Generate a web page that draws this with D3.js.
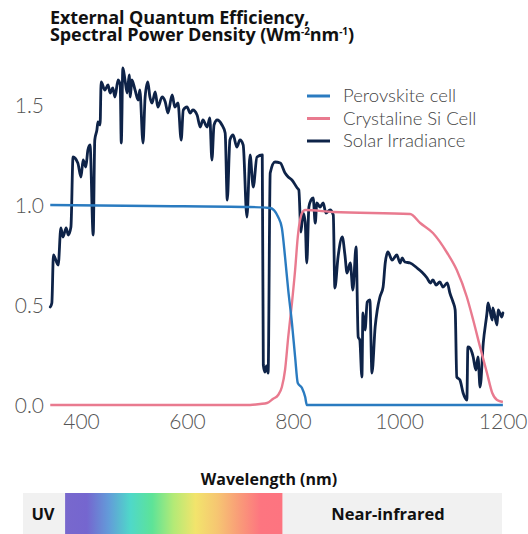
<!DOCTYPE html>
<html>
<head>
<meta charset="utf-8">
<script src="https://cdn.jsdelivr.net/npm/d3@7"></script>
<style>
  html, body { margin: 0; padding: 0; background: #fff; }
  svg { display: block; }
</style>
</head>
<body>
<div id="chart"></div>
<script>
// Wavelength (nm) vs value.
const solarIrradiance = [
  [342,0.49],[345,0.51],[348,0.75],[357,0.70],[362,0.885],[366,0.84],[372,0.885],[376,0.85],[381,0.89],
  [385,1.24],[394,1.21],[400,1.14],[404,1.225],[409,1.19],[413,1.275],[417,1.30],[423,0.85],[426,1.325],
  [430,1.375],[432,1.415],[436,1.40],[438,1.615],[445,1.575],[451,1.60],[455,1.56],[460,1.585],[464,1.54],
  [470,1.625],[474,1.60],[476,1.31],[479,1.685],[483,1.625],[487,1.56],[491,1.65],[493,1.54],[496,1.625],
  [502,1.575],[508,1.525],[511,1.575],[517,1.31],[521,1.54],[526,1.615],[530,1.54],[534,1.51],[540,1.565],
  [545,1.49],[553,1.54],[559,1.515],[564,1.46],[572,1.55],[577,1.49],[583,1.51],[589,1.325],[593,1.475],
  [600,1.49],[606,1.46],[611,1.475],[619,1.45],[625,1.39],[630,1.425],[638,1.39],[643,1.435],[647,1.225],
  [651,1.40],[657,1.425],[666,1.40],[672,1.36],[676,1.025],[681,1.325],[687,1.35],[694,1.29],[700,1.325],
  [706,1.30],[713,0.94],[719,1.25],[725,1.09],[732,1.24],[742,1.25],[744,0.20],[747,0.165],[750,0.195],
  [753,0.16],[757,1.16],[766,1.215],[776,1.21],[785,1.16],[791,1.14],[798,1.125],[808,1.085],[811,1.075],
  [815,0.865],[819,0.96],[823,0.915],[826,0.71],[830,0.99],[834,1.025],[838,1.035],[842,0.91],[845,1.01],
  [851,0.99],[857,1.01],[862,0.96],[870,0.975],[876,0.95],[879,0.585],[885,0.74],[893,0.84],[898,0.75],
  [902,0.66],[908,0.71],[913,0.575],[919,0.79],[923,0.34],[926,0.325],[930,0.14],[932,0.46],[936,0.375],
  [940,0.515],[945,0.525],[949,0.16],[955,0.39],[959,0.475],[964,0.54],[970,0.59],[974,0.71],[979,0.765],
  [987,0.725],[996,0.75],[1002,0.71],[1006,0.735],[1011,0.715],[1021,0.71],[1034,0.685],[1043,0.665],
  [1053,0.635],[1059,0.61],[1064,0.625],[1070,0.60],[1077,0.615],[1083,0.59],[1091,0.61],[1096,0.56],
  [1102,0.515],[1106,0.475],[1109,0.14],[1115,0.125],[1121,0.06],[1128,0.025],[1130,0.29],[1134,0.285],
  [1138,0.26],[1140,0.24],[1145,0.175],[1149,0.24],[1153,0.09],[1159,0.31],[1166,0.46],[1168,0.51],
  [1176,0.425],[1177,0.485],[1185,0.40],[1187,0.475],[1194,0.44],[1196,0.46]
];
const perovskiteEQE = [
  [342,1.0],[530,0.995],[719,0.99],[757,0.985],[772,0.94],[779,0.885],[785,0.74],[791,0.575],
  [798,0.41],[804,0.24],[809,0.11],[817,0.085],[823,0.04],[826,0.0],[1196,0.0]
];
const siliconEQE = [
  [342,0.0],[719,0.0],[738,0.005],[751,0.01],[762,0.03],[772,0.05],[779,0.09],[785,0.175],[791,0.34],
  [798,0.51],[804,0.675],[809,0.84],[817,0.96],[823,0.975],[876,0.965],[1021,0.955],[1040,0.91],
  [1064,0.86],[1091,0.76],[1109,0.675],[1128,0.54],[1140,0.425],[1153,0.29],[1166,0.16],[1176,0.06],
  [1185,0.025],[1196,0.015]
];
const xTicks = [400, 600, 800, 1000, 1200];
const yTicks = [0, 0.5, 1.0, 1.5];
const seriesNames = ["Perovskite cell", "Crystaline Si Cell", "Solar Irradiance"];
const seriesColors = ["#2a7bc0", "#e97a8f", "#0e2348"];
const visibleBand = [370, 780];       // rainbow part of the strip
const bandColors = ["#7868cd","#7566cf","#639bd9","#4fd8c9","#5de398","#b4ea76","#f2e46c","#f6c672","#f99c78","#fd7580","#fd7480"];

const W = 528, H = 534;
const svg = d3.select("#chart").append("svg").attr("width", W).attr("height", H);

const x = d3.scaleLinear().domain([400, 1200]).range([81, 505]);
const y = d3.scaleLinear().domain([0, 1.5]).range([405, 105]);

const boldFont = "'Open Sans', Roboto, sans-serif";
const lightFont = "Lato, 'Open Sans', sans-serif";

// ---------- title (two lines, second one carries the unit superscripts) ----------
svg.append("text")
  .attr("x", 50).attr("y", 24)
  .attr("font-family", boldFont).attr("font-weight", 700).attr("font-size", 18)
  .attr("letter-spacing", -0.1)
  .attr("fill", "#111").text("External Quantum Efficiency,");
const t2 = svg.append("text")
  .attr("x", 50).attr("y", 41)
  .attr("font-family", boldFont).attr("font-weight", 700).attr("font-size", 18)
  .attr("letter-spacing", -0.1)
  .attr("fill", "#111");
t2.append("tspan").text("Spectral Power Density (Wm");
t2.append("tspan").attr("font-size", 10).attr("dy", -6).text("-2");
t2.append("tspan").attr("dy", 6).text("nm");
t2.append("tspan").attr("font-size", 10).attr("dy", -6).text("-1");
t2.append("tspan").attr("dy", 6).text(")");

// ---------- axes (labels only) ----------
const yAxis = svg.append("g")
  .attr("transform", "translate(44,0)")
  .call(d3.axisLeft(y).tickValues(yTicks).tickFormat(d3.format(".1f")).tickSize(0).tickPadding(0));
yAxis.select(".domain").remove();
yAxis.selectAll("text")
  .attr("font-family", lightFont).attr("font-weight", 300).attr("font-size", 21)
  .attr("fill", "#555").attr("dy", "0.36em");

const xAxis = svg.append("g")
  .attr("transform", "translate(0,414)")
  .call(d3.axisBottom(x).tickValues(xTicks).tickFormat(d3.format("d")).tickSize(0).tickPadding(0));
xAxis.select(".domain").remove();
xAxis.selectAll("text")
  .attr("font-family", lightFont).attr("font-weight", 300).attr("font-size", 21)
  .attr("fill", "#555").attr("dy", "0.71em");
// last label sits flush with the right edge
xAxis.selectAll(".tick").filter(d => d === 1200).select("text").attr("text-anchor", "end").attr("x", 22);

// ---------- lines ----------
const smooth = d3.line().x(d => x(d[0])).y(d => y(d[1])).curve(d3.curveMonotoneX);

svg.append("path").datum(solarIrradiance)
  .attr("d", smooth).attr("fill", "none")
  .attr("stroke", seriesColors[2]).attr("stroke-width", 2.8)
  .attr("stroke-linejoin", "round").attr("stroke-linecap", "round");

svg.append("path").datum(siliconEQE)
  .attr("d", smooth).attr("fill", "none")
  .attr("stroke", seriesColors[1]).attr("stroke-width", 2.4);

svg.append("path").datum(perovskiteEQE)
  .attr("d", smooth).attr("fill", "none")
  .attr("stroke", seriesColors[0]).attr("stroke-width", 2.4);

// ---------- legend ----------
const legend = svg.append("g").attr("transform", "translate(307,96)");
seriesNames.forEach((name, i) => {
  const g = legend.append("g").attr("transform", `translate(0,${i * 22.5})`);
  g.append("line").attr("x1", 0).attr("x2", 23)
    .attr("stroke", seriesColors[i]).attr("stroke-width", 3);
  g.append("text").attr("x", 36).attr("dy", "0.35em")
    .attr("font-family", lightFont).attr("font-weight", 300).attr("font-size", 18.5)
    .attr("fill", "#444").text(name);
});

// ---------- x-axis title ----------
svg.append("text")
  .attr("x", 269).attr("y", 485).attr("text-anchor", "middle")
  .attr("font-family", boldFont).attr("font-weight", 700).attr("font-size", 16)
  .attr("fill", "#111").text("Wavelength (nm)");

// ---------- spectrum strip ----------
const defs = svg.append("defs");
const grad = defs.append("linearGradient").attr("id", "rainbow")
  .attr("x1", "0%").attr("x2", "100%").attr("y1", "0%").attr("y2", "0%");
bandColors.forEach((c, i) => {
  grad.append("stop").attr("offset", (i / (bandColors.length - 1) * 100) + "%").attr("stop-color", c);
});

svg.append("rect")
  .attr("x", 23).attr("y", 493).attr("width", 502 - 23).attr("height", H - 493)
  .attr("fill", "#f1f1f1");
svg.append("rect")
  .attr("x", x(visibleBand[0])).attr("y", 493)
  .attr("width", x(visibleBand[1]) - x(visibleBand[0])).attr("height", H - 493)
  .attr("fill", "url(#rainbow)");

svg.append("text")
  .attr("x", 43).attr("y", 520).attr("text-anchor", "middle")
  .attr("font-family", boldFont).attr("font-weight", 700).attr("font-size", 16.5)
  .attr("fill", "#111").text("UV");
svg.append("text")
  .attr("x", 388).attr("y", 520).attr("text-anchor", "middle")
  .attr("font-family", boldFont).attr("font-weight", 700).attr("font-size", 16.5)
  .attr("fill", "#111").text("Near-infrared");
</script>
</body>
</html>
